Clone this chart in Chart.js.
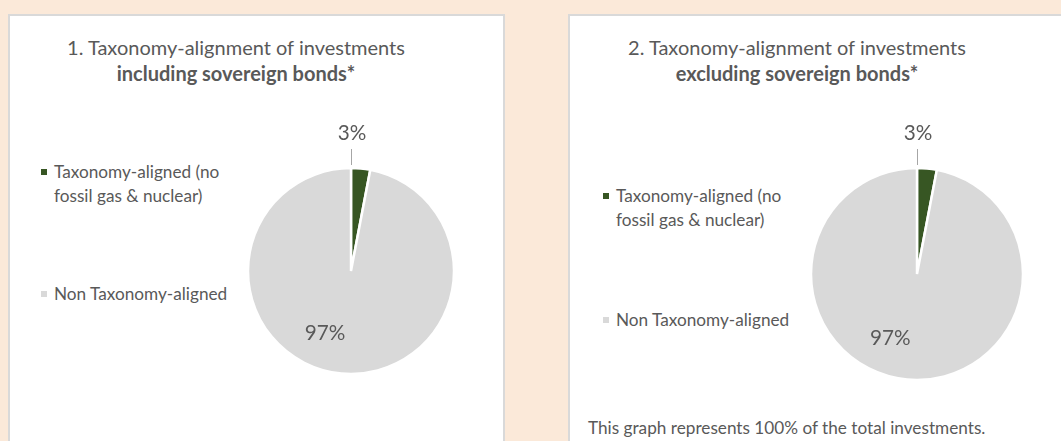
<!DOCTYPE html>
<html>
<head>
<meta charset="utf-8">
<script src="https://cdn.jsdelivr.net/npm/chart.js@4.4.1/dist/chart.umd.min.js"></script>
<style>
    html, body {
        margin: 0;
        padding: 0;
        width: 1061px;
        height: 441px;
        overflow: hidden;
        background: #fbe9d9;
        font-family: Lato, "Open Sans", sans-serif;
        color: #595959;
    }
    .panel {
        position: absolute;
        top: 14px;
        height: 440px;
        box-sizing: border-box;
        border: 2px solid #d9d9d9;
        background: #ffffff;
    }
    .title {
        position: absolute;
        top: 34px;
        width: 440px;
        text-align: center;
        font-size: 20px;
        line-height: 26px;
        white-space: nowrap;
    }
    .title b { font-weight: 700; }
    .legend {
        position: absolute;
        font-size: 17.2px;
        line-height: 24px;
    }
    .legend .item {
        position: absolute;
        left: 0;
        width: 195px;
    }
    .legend .box {
        position: absolute;
        left: -13px;
        top: 9px;
        width: 6px;
        height: 6px;
    }
    .footer {
        position: absolute;
        font-size: 17.2px;
        line-height: 20px;
        white-space: nowrap;
    }
    canvas { position: absolute; }
</style>
</head>
<body>

<div class="panel" style="left: 8px; width: 497px;"></div>
<div class="panel" style="left: 568px; width: 500px;"></div>

<div class="title" style="left: 16px;">1. Taxonomy-alignment of investments<br><b>including sovereign bonds*</b></div>
<div class="title" style="left: 577px;">2. Taxonomy-alignment of investments<br><b>excluding sovereign bonds*</b></div>

<div class="legend" id="legend1" style="left: 54px; top: 160px;"></div>
<div class="legend" id="legend2" style="left: 616px; top: 184px;"></div>

<div class="footer" style="left: 588px; top: 418px;">This graph represents 100% of the total investments.</div>

<canvas id="pie1" width="280" height="320" style="left: 211px; top: 111px; width: 280px; height: 320px;"></canvas>
<canvas id="pie2" width="280" height="320" style="left: 777px; top: 114px; width: 280px; height: 320px;"></canvas>

<script>
    const categories = ['Taxonomy-aligned (no fossil gas & nuclear)', 'Non Taxonomy-aligned'];
    const includingSovereign = [3, 97];
    const excludingSovereign = [3, 97];
    const sliceColors = ['#375623', '#d9d9d9'];

    const textColor = '#595959';
    const labelFont = '20.7px Lato, "Open Sans", sans-serif';

    // Excel-style data labels: small slices get a label above with a leader line
    const pieLabels = {
        id: 'pieLabels',
        afterDatasetsDraw(chart) {
            const ctx = chart.ctx;
            const meta = chart.getDatasetMeta(0);
            const data = chart.data.datasets[0].data;
            const total = data.reduce((a, b) => a + b, 0);

            ctx.save();
            ctx.font = labelFont;
            ctx.fillStyle = textColor;
            ctx.textAlign = 'center';
            ctx.textBaseline = 'middle';

            meta.data.forEach(function (arc, i) {
                const pct = data[i] / total;
                const text = Math.round(pct * 100) + '%';
                const r = arc.outerRadius;

                if (pct < 0.1) {
                    const x = arc.x + Math.cos(arc.startAngle) * r;
                    const y = arc.y + Math.sin(arc.startAngle) * r;
                    ctx.strokeStyle = '#a6a6a6';
                    ctx.lineWidth = 1;
                    ctx.beginPath();
                    ctx.moveTo(Math.round(x) + 0.5, y - 3);
                    ctx.lineTo(Math.round(x) + 0.5, y - 19);
                    ctx.stroke();
                    ctx.fillText(text, x + 1, y - 35);
                } else {
                    const mid = (arc.startAngle + arc.endAngle) / 2 + 0.3;
                    ctx.fillText(text, arc.x + Math.cos(mid) * r * 0.655, arc.y + Math.sin(mid) * r * 0.655);
                }
            });
            ctx.restore();
        },
    };

    function buildLegend(holderId, gap) {
        const holder = document.getElementById(holderId);
        categories.forEach(function (label, i) {
            const item = document.createElement('div');
            item.className = 'item';
            item.style.top = (i * gap) + 'px';
            item.textContent = label;
            const box = document.createElement('span');
            box.className = 'box';
            box.style.background = sliceColors[i];
            item.appendChild(box);
            holder.appendChild(item);
        });
    }

    function drawPie(canvasId, values, radius) {
        const ctx = document.getElementById(canvasId).getContext('2d');
        return new Chart(ctx, {
            type: 'pie',
            data: {
                labels: categories,
                datasets: [{
                    data: values,
                    backgroundColor: sliceColors,
                    borderColor: '#ffffff',
                    borderWidth: 2.5,
                    radius: radius,
                }],
            },
            options: {
                responsive: false,
                animation: false,
                layout: { padding: 0 },
                plugins: {
                    legend: { display: false },
                    tooltip: { enabled: false },
                },
            },
            plugins: [pieLabels],
        });
    }

    buildLegend('legend1', 122);
    buildLegend('legend2', 124);
    drawPie('pie1', includingSovereign, 103);
    drawPie('pie2', excludingSovereign, 106);
</script>
</body>
</html>
